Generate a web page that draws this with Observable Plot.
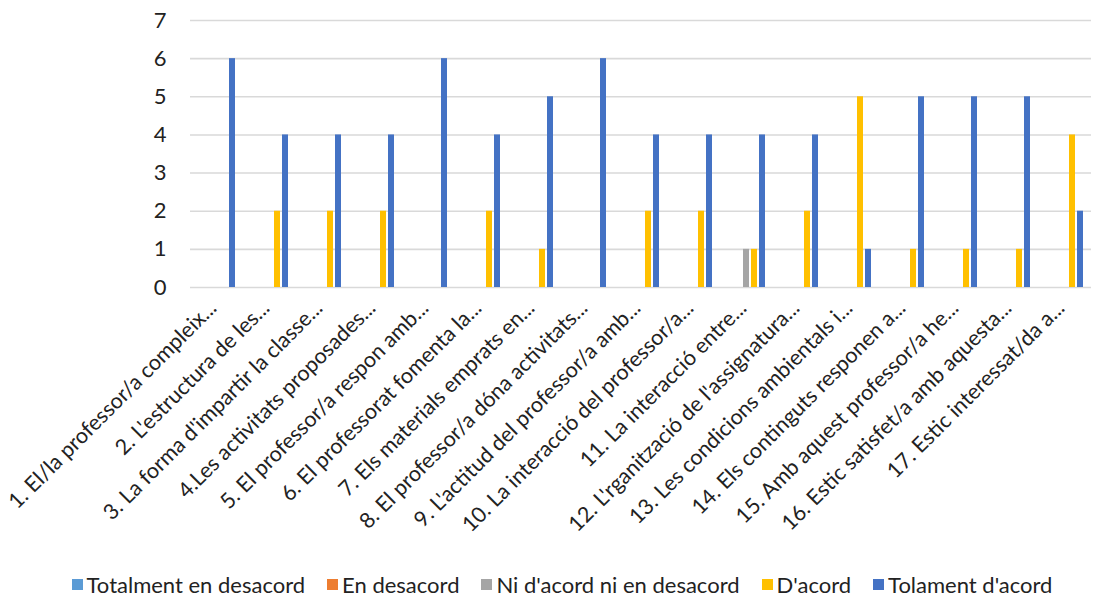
<!DOCTYPE html>
<html>
<head>
<meta charset="utf-8">
<script src="https://cdn.jsdelivr.net/npm/d3@7"></script>
<script src="https://cdn.jsdelivr.net/npm/@observablehq/plot@0.6"></script>
<style>
  html, body { margin: 0; padding: 0; background: #fff; }
  body { width: 1094px; height: 600px; overflow: hidden; font-family: Lato, "Noto Sans", sans-serif; }
  #legend { display: flex; justify-content: center; gap: 22px; font-size: 22px; color: #222; margin-top: 26px; padding-left: 30px; }
  #legend .item { display: flex; align-items: center; gap: 4px; }
  #legend .sw { width: 11px; height: 11px; display: inline-block; }
</style>
</head>
<body>
<div id="chart"></div>
<div id="legend"></div>
<script>
const categories = [
  "1. El/la professor/a compleix...",
  "2. L'estructura de les...",
  "3. La forma d'impartir la classe...",
  "4.Les activitats proposades...",
  "5. El professor/a respon amb...",
  "6. El professorat fomenta la...",
  "7. Els materials emprats en...",
  "8. El professor/a dóna activitats...",
  "9. L'actitud del professor/a amb...",
  "10. La interacció del professor/a...",
  "11. La interacció entre...",
  "12. L'rganització de l'assignatura...",
  "13. Les condicions ambientals i...",
  "14. Els continguts responen a...",
  "15. Amb aquest professor/a he...",
  "16. Estic satisfet/a amb aquesta...",
  "17. Estic interessat/da a..."
];
const seriesNames = ["Totalment en desacord", "En desacord", "Ni d'acord ni en desacord", "D'acord", "Tolament d'acord"];
const seriesColors = ["#5B9BD5", "#ED7D31", "#A5A5A5", "#FFC000", "#4472C4"];

const totalmentDesacord = [0,0,0,0,0,0,0,0,0,0,0,0,0,0,0,0,0];
const enDesacord        = [0,0,0,0,0,0,0,0,0,0,0,0,0,0,0,0,0];
const niNi              = [0,0,0,0,0,0,0,0,0,0,1,0,0,0,0,0,0];
const dAcord            = [0,2,2,2,0,2,1,0,2,2,1,2,5,1,1,1,4];
const tolamentAcord     = [6,4,4,4,6,4,5,6,4,4,4,4,1,5,5,5,2];
const yTicks = [0,1,2,3,4,5,6,7];

const seriesValues = [totalmentDesacord, enDesacord, niNi, dAcord, tolamentAcord];
const data = [];
categories.forEach((c, i) => {
  seriesNames.forEach((s, j) => {
    const v = seriesValues[j][i];
    if (v > 0) data.push({cat: c, series: s, value: v});
  });
});

const chart = Plot.plot({
  width: 1094,
  height: 545,
  marginLeft: 187,
  marginRight: 1,
  marginTop: 20,
  marginBottom: 258,
  style: {fontFamily: "Lato, 'Noto Sans', sans-serif", color: "#222", background: "#fff"},
  fx: {domain: categories, padding: 0, label: null, axis: null},
  x: {domain: seriesNames, paddingInner: 0.2, paddingOuter: 0.7, axis: null},
  y: {domain: [0, 7], label: null},
  color: {domain: seriesNames, range: seriesColors},
  marks: [
    Plot.ruleY(yTicks, {stroke: "#d9d9d9", strokeWidth: 1.6}),
    Plot.barY(data, {fx: "cat", x: "series", y: "value", fill: "series"}),
    Plot.axisY({ticks: yTicks, tickSize: 0, tickPadding: 24, fontSize: 22, label: null, tickFormat: d => String(d)}),
    Plot.axisFx({anchor: "bottom", tickRotate: -45, tickSize: 0, tickPadding: 17, dx: -4, fontSize: 21.5, label: null})
  ]
});
document.getElementById("chart").appendChild(chart);

const legend = document.getElementById("legend");
seriesNames.forEach((s, i) => {
  const item = document.createElement("div");
  item.className = "item";
  const sw = document.createElement("span");
  sw.className = "sw";
  sw.style.background = seriesColors[i];
  const t = document.createElement("span");
  t.textContent = s;
  item.appendChild(sw);
  item.appendChild(t);
  legend.appendChild(item);
});
</script>
</body>
</html>
